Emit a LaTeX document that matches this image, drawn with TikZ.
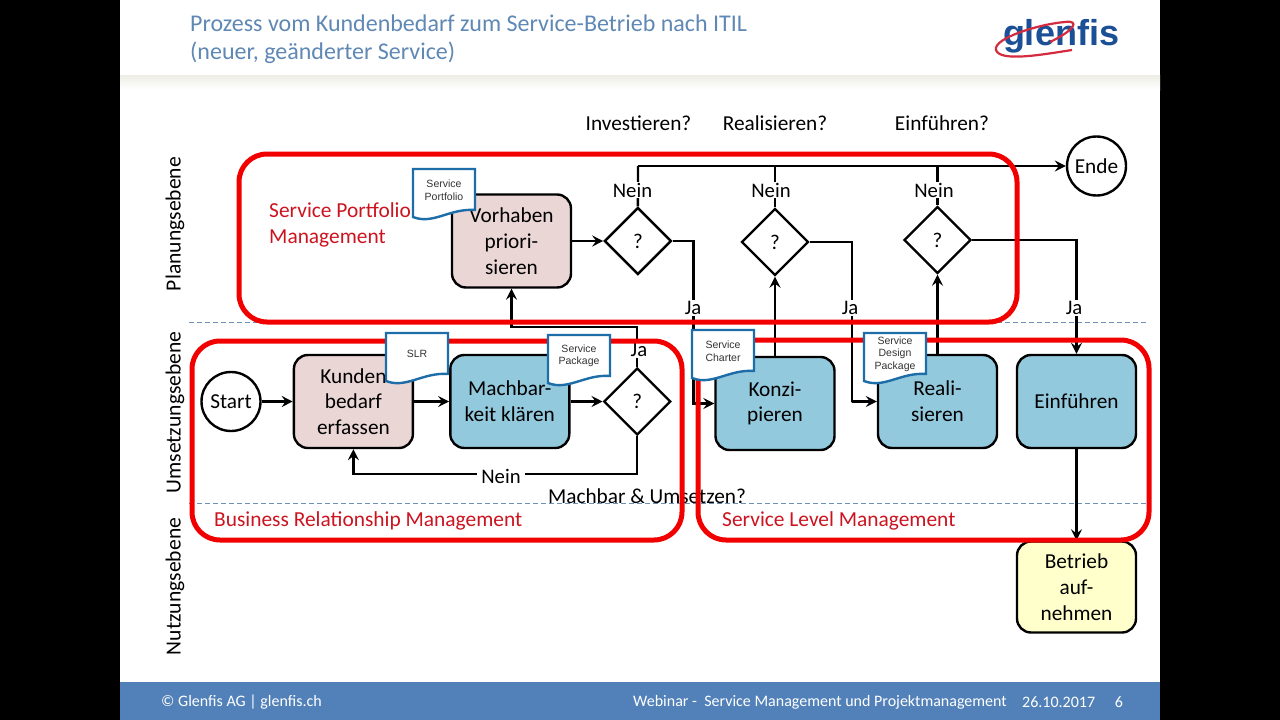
\documentclass[tikz,border=0pt]{standalone}
\usepackage{fontspec}
\setmainfont{Carlito}
\newfontfamily\docfont{Liberation Sans}
\usepackage{xcolor}
\usetikzlibrary{arrows.meta,positioning,shapes.geometric}
\definecolor{slideblue}{HTML}{5181B8}
\definecolor{titleblue}{HTML}{5F88B5}
\definecolor{headshade}{HTML}{EEEEE6}
\definecolor{frame red}{HTML}{F20000}
\definecolor{label red}{HTML}{CC1420}
\definecolor{doc blue}{HTML}{1C6DA8}
\definecolor{level dash}{HTML}{6F90B8}
\definecolor{logo blue}{HTML}{1B4F96}
\definecolor{logo red}{HTML}{D52B3F}
\definecolor{taskpink}{HTML}{EBD6D6}
\definecolor{taskblue}{HTML}{92C9DD}
\definecolor{taskyellow}{HTML}{FFFFCC}

\begin{document}
\begin{tikzpicture}[
  x=1pt,y=-1pt,
  node distance=35pt,
  flow/.style={-{Stealth[length=11pt,width=11pt,inset=4pt]},draw=black,line width=2.4pt},
  link/.style={draw=black,line width=2.4pt},
  task/.style={draw=black,line width=2.4pt,rounded corners=14pt,minimum width=119pt,
    minimum height=93pt,align=center,inner sep=0pt,font=\fontsize{21.3}{25.7}\selectfont},
  pink task/.style={task,fill=taskpink},
  blue task/.style={task,fill=taskblue},
  yellow task/.style={task,fill=taskyellow},
  decision/.style={diamond,draw=black,line width=2.4pt,fill=white,minimum width=67pt,
    minimum height=67pt,inner sep=0pt,font=\fontsize{21}{24}\selectfont},
  terminal/.style={circle,draw=black,line width=2.4pt,fill=white,minimum size=59pt,
    inner sep=0pt,font=\fontsize{21.3}{24}\selectfont},
  answer/.style={fill=white,inner sep=1pt,font=\fontsize{20.7}{24}\selectfont},
  question/.style={inner sep=0pt,font=\fontsize{21.3}{24}\selectfont},
  level/.style={rotate=90,inner sep=0pt,font=\fontsize{21.6}{24}\selectfont},
  process frame/.style={draw=frame red,line width=5pt,rounded corners=28pt},
  process name/.style={text=label red,align=left,inner sep=0pt,font=\fontsize{21.4}{26}\selectfont},
  level line/.style={draw=level dash,line width=1pt,dash pattern=on 5pt off 3pt},
  doc shape/.style={draw=doc blue,fill=white,line width=2.4pt},
  doc text/.style={align=center,text=black!80,font=\docfont\fontsize{10.5}{12.5}\selectfont},
  foot/.style={text=white,inner sep=0pt,font=\fontsize{16}{18}\selectfont}
]

\useasboundingbox (0,0) rectangle (1280,720);
\fill[black] (0,0) rectangle (1280,720);
\fill[white] (120,0) rectangle (1160,720);

% slide head and foot
\fill[top color=headshade,bottom color=white] (120,75) rectangle (1160,90);
\fill[slideblue] (120,682) rectangle (1160,720);
\node[anchor=west,inner sep=0pt,text=titleblue,align=left,font=\fontsize{24}{28.5}\selectfont] (title) at (190,39)
  {Prozess vom Kundenbedarf zum Service-Betrieb nach ITIL\\(neuer, geänderter Service)};
\node[foot,anchor=west] (owner) at (161,702) {© Glenfis AG | glenfis.ch};
\node[foot,anchor=west] (event) at (633,702) {Webinar -\ \ Service Management und Projektmanagement};
\node[foot,anchor=west] (date) at (1022,702) {26.10.2017};
\node[foot] (page) at (1119,702) {6};

% logo
\node[text=logo blue,font=\docfont\bfseries\fontsize{36}{40}\selectfont] (logo) at (1061,36) {glenfis};
\draw[logo red,line width=2.2pt] (1072,50) .. controls (1040,55) and (1000,62) .. (996,50)
  .. controls (993,38) and (1040,24) .. (1065,22) .. controls (1080,20) and (1075,30) .. (1050,42);

% levels
\node[level] (plan) at (175,224) {Planungsebene};
\node[level] (umsetzung) at (175,412.5) {Umsetzungsebene};
\node[level] (nutzung) at (175,586.5) {Nutzungsebene};
\draw[level line] (189,322) -- (1147,322);
\draw[level line] (189,503.5) -- (1147,503.5);

% tasks and decisions
\node[terminal] (start) at (231,401.5) {Start};
\node[pink task,right=31pt of start] (kunden) {Kunden\\bedarf\\erfassen};
\node[blue task,right=of kunden] (machbar) {Machbar-\\keit klären};
\node[decision,right=32pt of machbar] (gate) {?};
\node[pink task] (vorhaben) at (511.5,241) {Vorhaben\\priori-\\sieren};
\node[decision,right=31pt of vorhaben] (invest) {?};
\node[blue task] (konzept) at (775,403.5) {Konzi-\\pieren};
\node[decision] (real) at (775,242) {?};
\node[blue task] (realisieren) at (937.5,401.5) {Reali-\\sieren};
\node[decision] (intro) at (937.5,240) {?};
\node[blue task] (einfuehren) at (1076.5,401.5) {Einführen};
\node[yellow task,minimum height=91pt] (betrieb) at (1076.5,587) {Betrieb\\auf-\\nehmen};
\node[terminal] (ende) at (1096.5,166) {Ende};
\coordinate (top line) at (638,166);

% connectors
\draw[link] (invest.north) -- (top line);
\draw[link] (real.north) |- (top line);
\draw[link] (intro.north) |- (top line);
\draw[flow] (top line) -- (ende.west);
\draw[flow] (start) -- (kunden);
\draw[flow] (kunden) -- (machbar);
\draw[flow] (machbar) -- (gate);
\draw[flow] (vorhaben) -- (invest);
\draw[flow] (gate.north) |- ++(-60,-40) -| (vorhaben.south);
\draw[flow] (gate.south) |- ++(-100,38) -| (kunden.south);
\draw[flow] (invest.east) -| ++(21,162) |- (konzept.west);
\draw[flow] (real.east) -| ++(42,160) |- (realisieren.west);
\draw[flow] (intro.east) -| (einfuehren.north);
\draw[flow] (konzept) -- (real);
\draw[flow] (realisieren) -- (intro);
\draw[flow] (einfuehren) -- (betrieb);

% answers and questions
\node[answer] (nein a) at (632.5,190) {Nein};
\node[answer] (nein b) at (771,190) {Nein};
\node[answer] (nein c) at (934,190) {Nein};
\node[answer] (ja a) at (693,308) {Ja};
\node[answer] (ja b) at (850,308) {Ja};
\node[answer] (ja c) at (1074,308) {Ja};
\node[answer] (ja d) at (639,350) {Ja};
\node[answer,inner xsep=4pt] (nein d) at (501,476) {Nein};
\node[question] (q invest) at (638.5,123) {Investieren?};
\node[question] (q real) at (775,123) {Realisieren?};
\node[question] (q intro) at (942,123) {Einführen?};
\node[question] (q gate) at (647,496) {Machbar \& Umsetzen?};

% process frames
\draw[process frame] (239,154) rectangle (1017,322);
\draw[process frame] (192,341) rectangle (682,540);
\draw[process frame] (698,340) rectangle (1149,540);
\node[process name,anchor=west] (portfolio) at (269,225) {Service Portfolio\\Management};
\node[process name,anchor=west] (brm) at (214,520.5) {Business Relationship Management};
\node[process name,anchor=west] (slm) at (722,520.5) {Service Level Management};

% documents
\foreach \docname/\docx/\docy/\doclabel in {
  sp/413/169/{Service\\Portfolio},
  slr/386/333/{SLR},
  pack/548/335/{Service\\Package},
  charter/692/330/{Service\\Charter},
  design/864/333/{Service\\Design\\Package}}{
  \draw[doc shape] (\docx,\docy) -- ++(62,0) -- ++(0,41)
    .. controls +(-25,-2) and +(20,8) .. ++(-62,7) -- cycle;
  \node[doc text] (\docname) at (\docx+31,\docy+21) {\doclabel};
}
\end{tikzpicture}
\end{document}
